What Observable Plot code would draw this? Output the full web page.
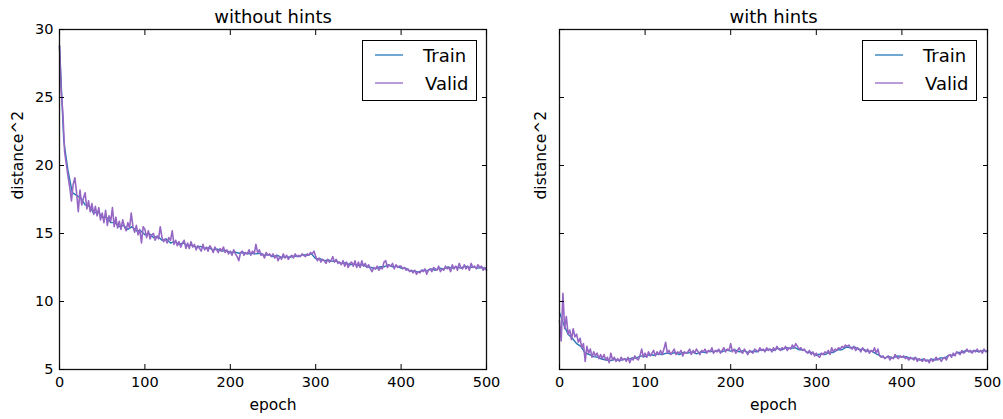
<!DOCTYPE html>
<html><head><meta charset="utf-8">
<script src="https://cdn.jsdelivr.net/npm/d3@7"></script>
<script src="https://cdn.jsdelivr.net/npm/@observablehq/plot@0.6"></script>
<style>
body{margin:0;background:#fff;font-family:"DejaVu Sans",sans-serif;}
#wrap{position:relative;width:1003px;height:419px;overflow:hidden;background:#fff;}
.panel{position:absolute;top:0;}
.legend{position:absolute;top:40px;width:115px;height:61px;border:1.3px solid #000;background:#fff;box-sizing:border-box;}
.legend svg{position:absolute;left:-1px;top:-1px;}
</style></head>
<body><div id="wrap"></div>
<script>
// train curves sampled every 5 epochs, validation curves every 2 epochs
const trainEpochs = d3.range(0, 501, 5);
const validEpochs = d3.range(0, 501, 2);
const titles = ["without hints", "with hints"];
const seriesNames = ["Train", "Valid"];
const xTicks = [0, 100, 200, 300, 400, 500];
const yTicks = [5, 10, 15, 20, 25, 30];
const xLabel = "epoch";
const yLabel = "distance^2";

const trainNoHints = [28.8,21.8,19.6,18.0,17.8,17.6,17.1,17.0,16.5,16.6,16.2,16.2,15.8,15.8,15.5,15.6,15.3,15.5,15.2,15.2,
14.9,15.0,14.7,14.8,14.5,14.6,14.3,14.4,14.2,14.3,14.1,14.15,14.0,14.05,13.9,13.95,13.8,13.85,13.7,13.75,
13.6,13.65,13.55,13.6,13.5,13.55,13.5,13.55,13.4,13.45,13.3,13.4,13.25,13.3,13.25,13.35,13.3,13.45,13.4,13.5,
13.15,13.15,13.0,13.05,12.95,12.95,12.8,12.85,12.7,12.75,12.65,12.7,12.55,12.5,12.4,12.55,12.55,12.7,12.55,12.6,
12.45,12.45,12.25,12.25,12.15,12.3,12.25,12.4,12.3,12.45,12.4,12.55,12.45,12.55,12.45,12.6,12.5,12.55,12.45,12.5,12.35];

const validNoHints = [
28.8,25.5,23.8,21.0,20.1,19.2,18.4,17.4,18.6,19.1,18.0,16.6,18.2,17.1,17.6,18.0,16.8,17.4,16.6,17.2,16.4,17.0,16.3,16.9,16.0,
16.5,15.8,16.7,15.6,16.3,15.9,16.9,15.5,16.2,15.4,15.9,15.3,16.0,15.5,15.2,15.8,15.4,16.5,15.5,15.1,15.6,14.9,15.3,14.3,15.5,
15.3,14.7,15.2,14.6,14.9,15.0,14.5,14.8,14.6,15.5,14.7,14.4,14.6,14.3,14.7,14.5,15.2,14.2,14.5,14.1,14.4,14.0,14.3,14.5,13.9,
14.3,13.9,14.4,14.0,14.2,13.8,14.1,13.9,13.7,14.2,13.8,14.0,13.7,14.1,13.9,13.6,14.0,13.8,13.6,13.9,13.7,14.0,13.6,13.8,13.5,
13.7,13.4,13.8,13.5,13.3,13.0,13.6,13.7,13.4,13.6,13.5,13.8,13.4,13.7,13.5,14.2,13.6,13.8,13.4,13.5,13.2,13.6,13.4,13.5,13.3,
13.5,13.2,13.4,13.0,13.3,13.1,13.5,13.2,13.4,13.1,13.3,13.4,13.2,13.5,13.3,13.4,13.3,13.5,13.4,13.3,13.5,13.4,13.6,13.5,13.7,
13.3,13.0,13.2,12.9,13.1,13.0,12.8,13.1,12.9,13.0,13.3,12.9,13.1,12.8,12.9,12.7,13.0,12.6,12.9,12.5,12.8,12.9,12.6,13.0,12.5,
12.9,12.5,13.0,12.6,12.8,12.5,12.7,12.4,12.2,12.5,12.4,12.6,12.3,12.5,12.4,12.9,13.0,12.5,12.7,12.6,12.8,12.4,12.7,12.5,12.6,
12.6,12.4,12.5,12.3,12.4,12.2,12.3,12.1,12.3,12.0,12.2,12.1,12.3,12.2,12.4,12.0,12.3,12.4,12.2,12.5,12.4,12.3,12.6,12.2,12.4,
12.3,12.6,12.4,12.5,12.2,12.7,12.4,12.6,12.3,12.8,12.5,12.4,12.7,12.4,12.6,12.3,12.8,12.5,12.6,12.4,12.7,12.5,12.6,12.3,12.5,
12.3];

const trainHints = [9.2,8.3,7.6,7.3,6.9,6.7,6.2,6.1,5.95,5.9,5.75,5.7,5.65,5.75,5.65,5.75,5.75,5.85,5.85,6.0,
5.95,6.1,6.05,6.15,6.1,6.2,6.15,6.25,6.1,6.25,6.2,6.3,6.15,6.3,6.25,6.35,6.3,6.4,6.3,6.45,
6.35,6.45,6.3,6.4,6.25,6.35,6.3,6.45,6.4,6.5,6.4,6.55,6.45,6.6,6.55,6.6,6.45,6.45,6.25,6.25,
6.05,6.15,6.1,6.25,6.25,6.45,6.45,6.65,6.6,6.65,6.45,6.5,6.35,6.35,6.15,6.0,5.85,5.95,5.85,6.0,
5.9,5.95,5.8,5.85,5.7,5.75,5.65,5.75,5.7,5.85,5.85,6.05,6.05,6.25,6.25,6.4,6.3,6.4,6.3,6.4,6.35];

const validHints = [
8.6,7.1,10.6,8.0,8.9,7.6,7.9,7.2,8.0,7.4,7.6,7.0,7.3,6.6,6.9,5.6,6.7,6.2,6.5,5.9,6.3,6.0,6.2,5.8,6.1,
5.8,6.1,5.7,5.9,5.5,6.2,5.7,5.9,5.6,5.8,5.6,5.9,5.7,5.8,5.6,5.9,5.5,5.8,5.7,6.0,5.8,5.7,6.0,6.5,5.9,
6.2,5.9,6.3,6.0,6.2,6.4,6.0,6.3,6.1,6.4,6.1,6.5,7.0,6.2,6.4,6.1,6.3,6.5,6.1,6.3,6.2,6.4,6.0,6.3,6.2,
6.3,6.5,6.1,6.4,6.2,6.5,6.3,6.1,6.4,6.3,6.5,6.2,6.4,6.3,6.6,6.2,6.4,6.3,6.5,6.2,6.4,6.6,6.3,6.5,6.4,
6.9,6.3,6.5,6.2,6.4,6.6,6.3,6.2,6.5,6.3,6.1,6.4,6.3,6.2,6.5,6.4,6.3,6.6,6.4,6.5,6.3,6.6,6.4,6.5,6.3,
6.6,6.4,6.7,6.5,6.4,6.6,6.5,6.7,6.4,6.6,6.5,6.8,6.6,6.9,6.7,6.5,6.6,6.4,6.5,6.3,6.2,6.4,6.1,6.3,6.0,
6.2,6.0,5.9,6.2,6.1,6.3,6.2,6.4,6.1,6.6,6.3,6.5,6.4,6.6,6.5,6.7,6.6,6.8,6.7,6.8,6.6,6.5,6.7,6.4,6.6,
6.5,6.3,6.6,6.4,6.3,6.5,6.2,6.4,6.3,6.6,6.2,6.5,6.0,5.9,6.0,5.8,5.9,6.0,5.7,5.9,5.8,6.1,5.9,5.8,6.0,
5.9,6.0,5.8,5.9,5.7,5.9,5.8,5.7,5.9,5.6,5.8,5.7,5.6,5.8,5.6,5.7,5.5,5.8,5.6,5.7,5.9,5.7,5.8,5.6,5.8,
5.9,5.7,6.0,6.1,5.9,6.2,6.0,6.3,6.2,6.1,6.4,6.2,6.3,6.5,6.3,6.4,6.2,6.4,6.3,6.5,6.3,6.4,6.2,6.5,6.3,
6.4];

const colors = ["#2479b8", "#9566c4"];

function rows(epochs, vals) {
  return epochs.map((e, i) => ({epoch: e, value: vals[i]})).filter(d => d.value != null);
}

function panel(title, train, valid, showYLabels, width, marginRight, yLabelDx) {
  return Plot.plot({
    width, height: 419,
    marginTop: 29, marginBottom: 50, marginLeft: 59, marginRight,
    x: {domain: [0, 500]},
    y: {domain: [5, 30]},
    style: {fontFamily: "DejaVu Sans", fontSize: "14px", color: "#000", background: "transparent", overflow: "visible"},
    marks: [
      Plot.lineY(rows(trainEpochs, train), {x: "epoch", y: "value", stroke: colors[0], strokeWidth: 1.4}),
      Plot.lineY(rows(validEpochs, valid), {x: "epoch", y: "value", stroke: colors[1], strokeWidth: 1.6}),
      Plot.frame({stroke: "#111", strokeWidth: 1.3}),
      Plot.axisX({ticks: xTicks, tickSize: -5, tickPadding: 12, label: null, fontSize: 14.5}),
      Plot.axisX({anchor: "top", ticks: xTicks, tickSize: -5, tickFormat: () => "", label: null}),
      Plot.axisY({ticks: yTicks, tickSize: -5, tickPadding: 11, tickFormat: showYLabels ? (d => d) : (() => ""), label: null, fontSize: 14.5}),
      Plot.axisY({anchor: "right", ticks: yTicks, tickSize: -5, tickFormat: () => "", label: null}),
      Plot.text([xLabel], {frameAnchor: "bottom", lineAnchor: "middle", dy: 36, fontSize: 15.5}),
      Plot.text([yLabel], {frameAnchor: "left", rotate: -90, dx: yLabelDx, fontSize: 15.5}),
      Plot.text([title], {frameAnchor: "top", lineAnchor: "middle", dy: -12, fontSize: 18})
    ]
  });
}

function legend(left) {
  const div = document.createElement("div");
  div.className = "legend";
  div.style.left = left + "px";
  let svg = `<svg width="116" height="62" xmlns="http://www.w3.org/2000/svg" font-family="DejaVu Sans" font-size="18">`;
  seriesNames.forEach((name, i) => {
    const y = 15 + i * 28;
    svg += `<line x1="13" x2="41" y1="${y}" y2="${y}" stroke="${colors[i]}" stroke-width="1.3"/>`;
    svg += `<text x="${i === 0 ? 61 : 63}" y="${y + 7}" fill="#000">${name}</text>`;
  });
  svg += `</svg>`;
  div.innerHTML = svg;
  return div;
}

const wrap = document.getElementById("wrap");
const p1 = panel(titles[0], trainNoHints, validNoHints, true, 500, 14, -41);
p1.classList.add("panel"); p1.style.left = "0px";
const p2 = panel(titles[1], trainHints, validHints, false, 503, 16, -18);
p2.classList.add("panel"); p2.style.left = "500px";
wrap.appendChild(p1);
wrap.appendChild(p2);
wrap.appendChild(legend(362));
wrap.appendChild(legend(862));
</script>
</body></html>
